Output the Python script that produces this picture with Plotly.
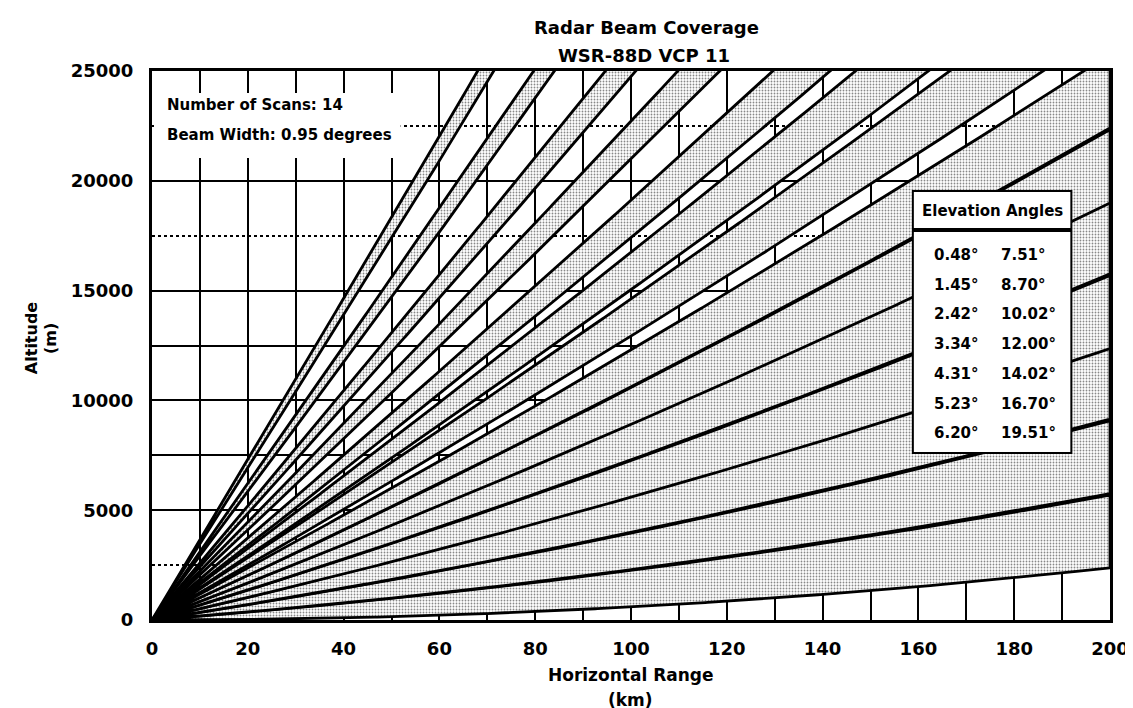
import numpy as np
import plotly.graph_objects as go

# ---- data ----
angles_col1 = [0.48, 1.45, 2.42, 3.34, 4.31, 5.23, 6.20]
angles_col2 = [7.51, 8.70, 10.02, 12.00, 14.02, 16.70, 19.51]
elevation_angles = angles_col1 + angles_col2
beam_width = 0.95          # degrees
num_scans = 14
earth_radius_km = 6371.0
refraction_factor = 4.0 / 3.0
range_km = np.linspace(0, 200, 401)

x_tickvals = [0, 20, 40, 60, 80, 100, 120, 140, 160, 180, 200]
y_tickvals = [0, 5000, 10000, 15000, 20000, 25000]
y_solid_extra = [7500, 12500]
y_dotted = [2500, 17500, 22500]

FONT = "DejaVu Sans"

# plot area in pixels (for placing annotations)
L, R, T, B = 144, 1111, 63, 612
W, H = 1133, 708


def px(xp):
    return (xp - L) / (R - L)


def py(yp):
    return (B - yp) / (B - T)


def beam_height_m(r_km, elev_deg):
    re = refraction_factor * earth_radius_km
    h = r_km * np.tan(np.radians(elev_deg)) + r_km ** 2 / (2 * re)
    return h * 1000.0


fig = go.Figure()
for ang in elevation_angles:
    lo = beam_height_m(range_km, ang - beam_width / 2)
    hi = beam_height_m(range_km, ang + beam_width / 2)
    fig.add_trace(go.Scatter(
        x=np.concatenate([range_km, range_km[::-1]]),
        y=np.concatenate([lo, hi[::-1]]),
        mode="lines",
        fill="toself",
        fillcolor="white",
        fillpattern=dict(shape=".", fgcolor="#111111", bgcolor="white",
                         size=3, solidity=0.3),
        line=dict(color="black", width=2.8),
        hoverinfo="skip",
        showlegend=False,
    ))

all_y_major = sorted(y_tickvals + y_solid_extra)
y_ticktext = [f"{v}" if v in y_tickvals else "" for v in all_y_major]

fig.update_xaxes(
    range=[0, 200], tickvals=x_tickvals, ticktext=[str(v) for v in x_tickvals],
    showgrid=True, gridcolor="black", gridwidth=2,
    minor=dict(dtick=10, tick0=0, showgrid=True, gridcolor="black", gridwidth=2),
    showline=True, linecolor="black", linewidth=3, mirror=True,
    zeroline=False, ticks="", ticklabelstandoff=10,
    tickfont=dict(family=FONT, size=18, color="black", weight="bold"),
)
fig.update_yaxes(
    range=[0, 25000], tickvals=all_y_major, ticktext=y_ticktext,
    showgrid=True, gridcolor="black", gridwidth=2,
    minor=dict(tickvals=y_dotted, showgrid=True, gridcolor="black",
               gridwidth=2, griddash="dot"),
    showline=True, linecolor="black", linewidth=3, mirror=True,
    zeroline=False, ticks="", ticklabelstandoff=12,
    tickfont=dict(family=FONT, size=18, color="black", weight="bold"),
)

shapes = []
# white box behind the scan-info text
shapes.append(dict(type="rect", xref="paper", yref="paper",
                   x0=px(146), x1=px(395), y0=py(150), y1=py(85),
                   fillcolor="white", line=dict(width=0), layer="above"))
# Elevation angle box
shapes.append(dict(type="rect", xref="paper", yref="paper",
                   x0=px(912), x1=px(1072), y0=py(221), y1=py(183),
                   fillcolor="white", line=dict(color="black", width=2), layer="above"))
shapes.append(dict(type="rect", xref="paper", yref="paper",
                   x0=px(912), x1=px(1072), y0=py(445), y1=py(223),
                   fillcolor="white", line=dict(color="black", width=2), layer="above"))

ann = []


def add_text(text, xp, yp, size, xanchor="center", textangle=0):
    ann.append(dict(text=text, xref="paper", yref="paper", x=px(xp), y=py(yp),
                    xanchor=xanchor, yanchor="middle", showarrow=False,
                    textangle=textangle, borderpad=0,
                    font=dict(family=FONT, size=size, color="black", weight="bold")))


add_text("Radar Beam Coverage", 643, 19, 18)
add_text("WSR-88D VCP 11", 641, 48, 18)
add_text("Horizontal Range", 627, 667, 17)
add_text("(km)", 627, 692, 17)
add_text("Altitude", 22, 330, 16, textangle=-90)
add_text("(m)", 41, 330, 16, textangle=-90)
add_text(f"Number of Scans: {num_scans}", 158, 97, 15, xanchor="left")
add_text(f"Beam Width: {beam_width:.2f} degrees", 158, 127, 15, xanchor="left")
add_text("Elevation Angles", 992, 203, 15)
for i, (a1, a2) in enumerate(zip(angles_col1, angles_col2)):
    yy = 247 + 29.7 * i
    add_text(f"{a1:.2f}°", 932, yy, 15, xanchor="left")
    add_text(f"{a2:.2f}°", 1000, yy, 15, xanchor="left")

fig.update_layout(
    width=W, height=H,
    margin=dict(l=L, r=W - R, t=T, b=H - B),
    plot_bgcolor="white", paper_bgcolor="white",
    shapes=shapes, annotations=ann,
    showlegend=False,
)

fig.write_html("out.html")
